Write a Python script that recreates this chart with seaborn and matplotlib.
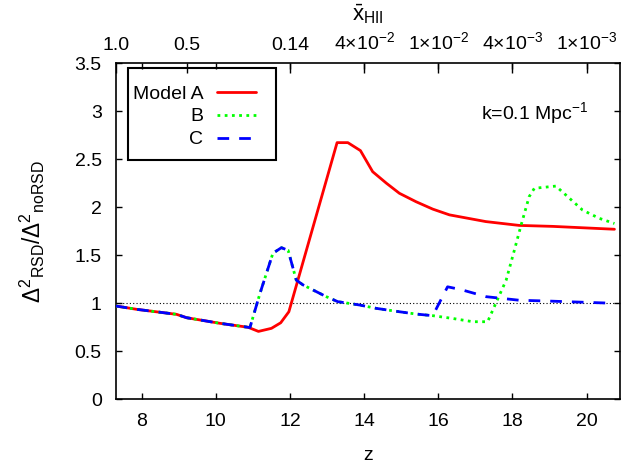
import matplotlib
matplotlib.use("Agg")
import matplotlib.pyplot as plt
import matplotlib.patches as mpatches
import seaborn as sns
import numpy as np
import pandas as pd
from matplotlib.ticker import FuncFormatter

# ---- data ----
z_A = [7.3, 7.87, 8.94, 9.21, 10.1, 10.87, 11.15, 11.5, 11.75, 11.97, 13.27, 13.56,
       13.9, 14.23, 14.6, 14.95, 15.4, 15.85, 16.3, 17.28, 18.18, 19.08, 20.75]
y_A = [0.97, 0.935, 0.883, 0.848, 0.79, 0.748, 0.705, 0.737, 0.795, 0.91, 2.673, 2.673,
       2.59, 2.37, 2.25, 2.145, 2.057, 1.98, 1.92, 1.85, 1.81, 1.80, 1.77]

z_B = [7.3, 7.87, 8.94, 9.21, 10.1, 10.87, 10.92, 11.19, 11.54, 11.77, 11.95, 12.17,
       12.35, 12.98, 13.29, 13.88, 14.33, 14.95, 15.4, 15.85, 16.39, 16.93, 17.33,
       17.47, 17.83, 18.05, 18.23, 18.45, 18.59, 19.17, 19.44, 19.89, 20.34, 20.75]
y_B = [0.97, 0.935, 0.883, 0.848, 0.79, 0.748, 0.745, 1.10, 1.52, 1.578, 1.55, 1.24,
       1.19, 1.067, 1.015, 0.98, 0.945, 0.91, 0.886, 0.869, 0.84, 0.806, 0.806,
       0.928, 1.24, 1.55, 1.81, 2.11, 2.197, 2.22, 2.127, 1.97, 1.884, 1.83]

z_C = [7.3, 7.87, 8.94, 9.21, 10.1, 10.87, 10.92, 11.19, 11.54, 11.77, 11.95, 12.17,
       12.35, 12.98, 13.29, 13.88, 14.33, 14.95, 15.4, 15.85, 16.25, 16.62, 17.29,
       18.18, 19.08, 20.75]
y_C = [0.97, 0.935, 0.883, 0.848, 0.79, 0.748, 0.745, 1.10, 1.52, 1.578, 1.55, 1.24,
       1.19, 1.067, 1.015, 0.98, 0.945, 0.91, 0.886, 0.869, 1.17, 1.14, 1.067,
       1.03, 1.02, 0.998]

labels = ["Model A", "B", "C"]
x_ticks = [8, 10, 12, 14, 16, 18, 20]
y_ticks = [0, 0.5, 1, 1.5, 2, 2.5, 3, 3.5]
top_tick_z = [7.3, 9.21, 12, 14, 16, 18, 20]
top_tick_labels = ["1.0", "0.5", "0.14", "4×10$^{-2}$", "1×10$^{-2}$",
                   "4×10$^{-3}$", "1×10$^{-3}$"]

# ---- style ----
sns.set_style("ticks")
plt.rcParams["font.family"] = ["Liberation Sans", "DejaVu Sans"]
plt.rcParams["mathtext.fontset"] = "custom"
plt.rcParams["mathtext.rm"] = "Liberation Sans"
plt.rcParams["mathtext.it"] = "Liberation Sans:italic"
plt.rcParams["mathtext.bf"] = "Liberation Sans:bold"
plt.rcParams["font.size"] = 14
for key in ["text.color", "axes.labelcolor", "xtick.color", "ytick.color",
            "xtick.labelcolor", "ytick.labelcolor", "axes.edgecolor"]:
    plt.rcParams[key] = "black"

fig = plt.figure(figsize=(6.22, 4.70), dpi=100)
ax = fig.add_axes([0.186, 0.151, 0.8108, 0.7143])

dfA = pd.DataFrame({"z": z_A, "r": y_A})
dfB = pd.DataFrame({"z": z_B, "r": y_B})
dfC = pd.DataFrame({"z": z_C, "r": y_C})

ax.axhline(1.0, color="black", lw=0.8, ls=(0, (1, 2)), zorder=1)
sns.lineplot(data=dfA, x="z", y="r", ax=ax, color="#ff0000", lw=2.0,
             label=labels[0], sort=False, zorder=3)
sns.lineplot(data=dfB, x="z", y="r", ax=ax, color="#00ff00", lw=2.0,
             label=labels[1], sort=False, zorder=4)
sns.lineplot(data=dfC, x="z", y="r", ax=ax, color="#0000ff", lw=2.0,
             label=labels[2], sort=False, zorder=5)
lines = ax.get_lines()
lines[2].set_dashes([1, 1.6])
lines[3].set_dashes([4.2, 3.6])

ax.set_xlim(7.3, 20.9)
ax.set_ylim(0, 3.5)
ax.set_xticks(x_ticks)
ax.set_yticks(y_ticks)
ax.yaxis.set_major_formatter(FuncFormatter(lambda v, p: "%g" % v))
ax.tick_params(axis="both", direction="in", length=4, width=1, colors="black",
               labelsize=14, top=True, right=True, labeltop=False)
ax.tick_params(axis="x", pad=10)
ax.tick_params(axis="y", pad=10)
for s in ax.spines.values():
    s.set_color("black")
    s.set_linewidth(1.2)

ax.set_xlabel("z", fontsize=14, labelpad=12, color="black")
ax.set_ylabel(r"$\Delta^{2}{}_{\mathrm{RSD}}/\Delta^{2}{}_{\mathrm{noRSD}}$",
              fontsize=16.3, labelpad=20, color="black")

sec = ax.secondary_xaxis("top")
sec.set_xticks(top_tick_z)
sec.set_xticklabels(top_tick_labels)
sec.tick_params(direction="in", length=7, width=1, labelsize=14, pad=7,
                colors="black")
sec.spines["top"].set_visible(False)
sec.set_xlabel(r"$\bar{\mathrm{x}}_{\mathrm{HII}}$", fontsize=16, labelpad=8,
               color="black")

ax.text(0.9366, 0.852, "k=0.1 Mpc$^{-1}$", transform=ax.transAxes, ha="right",
        va="center", fontsize=14, color="black")

leg = ax.legend(loc="center left", bbox_to_anchor=(0.034, 0.841), borderaxespad=0,
                markerfirst=False, fontsize=14, handlelength=2.0, handletextpad=0.7,
                labelspacing=0.27, borderpad=0.0, frameon=False, labelcolor="black")
box = mpatches.Rectangle((0.025, 0.712), 0.293, 0.273, transform=ax.transAxes,
                         fill=False, edgecolor="black", lw=1.5, zorder=6)
ax.add_patch(box)

fig.savefig("out.png", dpi=100)
